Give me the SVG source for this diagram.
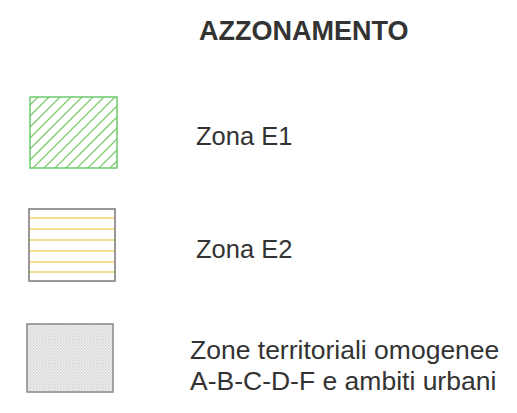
<svg xmlns="http://www.w3.org/2000/svg" width="517" height="413" viewBox="0 0 517 413">
<defs>
<style>
.t{font-family:"Liberation Sans",Arial,sans-serif;fill:#333;}
.h{font-family:"Liberation Sans",Arial,sans-serif;font-weight:bold;fill:#333;}
</style>
<clipPath id="c1"><rect x="30" y="97" width="87" height="71"/></clipPath>
<pattern id="dots" x="0" y="0" width="3" height="3" patternUnits="userSpaceOnUse">
<rect width="3" height="3" fill="#f3f3f3"/>
<rect x="0" y="0" width="1.5" height="1.5" fill="#cfcfcf"/>
<rect x="1.5" y="1.5" width="1.5" height="1.5" fill="#d8d8d8"/>
</pattern>
</defs>
<rect width="517" height="413" fill="#ffffff"/>
<text class="h" x="199" y="40" font-size="27">AZZONAMENTO</text>
<g id="e1">
<g clip-path="url(#c1)" stroke="#7ccd6a" stroke-width="1.3">
<path d="M20 170 L100 90 M31 170 L111 90 M42 170 L122 90 M53 170 L133 90 M64 170 L144 90 M75 170 L155 90 M86 170 L166 90 M97 170 L177 90 M108 170 L188 90 M9 170 L89 90 M-2 170 L78 90 M-13 170 L67 90 M-24 170 L56 90 M-35 170 L45 90"/>
</g>
<rect x="30" y="97" width="87" height="71" fill="none" stroke="#6cc86c" stroke-width="1.5"/>
<text class="t" x="196" y="145" font-size="25.5">Zona E1</text>
</g>
<g id="e2">
<g stroke="#f2d46a" stroke-width="1.5">
<path d="M29 218 H115 M29 229 H115 M29 240 H115 M29 251 H115 M29 262 H115 M29 272 H115"/>
</g>
<rect x="29" y="209" width="86" height="72" fill="none" stroke="#777" stroke-width="1.5"/>
<text class="t" x="196" y="258" font-size="25.5">Zona E2</text>
</g>
<g id="zto">
<rect x="27" y="324" width="86" height="68" fill="url(#dots)" stroke="#888" stroke-width="1.5"/>
<text class="t" x="190" y="359" font-size="26.5">Zone territoriali omogenee</text>
<text class="t" x="190" y="390" font-size="26.5">A-B-C-D-F e ambiti urbani</text>
</g>
</svg>
